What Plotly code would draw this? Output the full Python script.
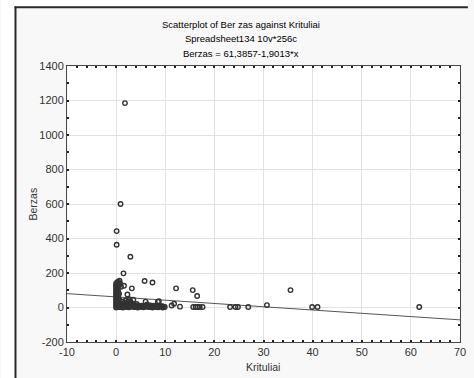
import plotly.graph_objects as go

# ---- data ----
outlier_x = [1.8, 0.9, 0.1, 0.1, 2.9, 1.5, 3.2, 0.7, 1.6, 2.3, 2.7, 3.5, 5.8, 7.4,
             12.2, 15.6, 16.5, 6.0, 8.5, 8.7, 35.5, 30.7, 11.3, 11.8, 13.0,
             15.7, 16.2, 16.6, 17.0, 17.6, 23.2, 24.3, 24.8, 26.9, 39.9, 41.0, 61.7,
             0.4, 0.8, 1.0, 2.0, 4.2, 6.3, 9.6, 9.9]
outlier_y = [1185, 600, 443, 364, 294, 198, 111, 155, 126, 75, 48, 45, 154, 145,
             111, 101, 67, 34, 34, 37, 101, 14, 12, 22, 5,
             3, 3, 3, 3, 3, 3, 3, 3, 3, 3, 3, 3,
             150, 140, 120, 40, 20, 18, 5, 3]

col_x = [0, 0, 0, 0, 0, 0, 0, 0, 0, 0, 0, 0, 0, 0, 0,
         0.2, 0.2, 0.2, 0.2, 0.2, 0.2, 0.2, 0.2,
         0.4, 0.4, 0.4, 0.4, 0.4, 0.4,
         0.6, 0.6, 0.6, 0.6]
col_y = [0, 10, 20, 30, 40, 50, 60, 70, 80, 90, 100, 110, 120, 130, 140,
         5, 25, 45, 65, 85, 105, 125, 145,
         15, 35, 55, 75, 95, 115,
         20, 50, 80, 135]

band_x = [0.8, 1.1, 1.4, 1.7, 2.0, 2.3, 2.6, 2.9, 3.2, 3.5, 3.8, 4.1, 4.4, 4.7, 5.0,
          5.3, 5.6, 5.9, 6.2, 6.5, 6.8, 7.1, 7.4, 7.7, 8.0, 8.3, 8.6, 8.9, 9.2, 9.5,
          0.9, 1.3, 1.8, 2.2, 2.7, 3.1, 3.6, 4.0, 4.6, 5.2, 5.8, 6.4, 7.0, 7.6, 8.2,
          8.8, 9.4, 1.0, 1.5, 2.0, 2.5, 3.0, 3.4, 1.2, 1.9, 2.4, 2.8]
band_y = [2, 5, 0, 8, 3, 6, 1, 9, 4, 7, 2, 5, 0, 8, 3,
          6, 1, 9, 4, 7, 2, 5, 0, 8, 3, 6, 1, 9, 4, 0,
          12, 15, 10, 14, 11, 16, 13, 12, 10, 11, 9, 10, 12, 11, 10,
          9, 8, 25, 20, 28, 22, 30, 18, 35, 40, 32, 38]

fit_intercept = 61.3857
fit_slope = -1.9013
fit_x = [-10, 70]
fit_y = [fit_intercept + fit_slope * v for v in fit_x]

x_tickvals = [-10, 0, 10, 20, 30, 40, 50, 60, 70]
x_ticktext = ["-10", "0", "10", "20", "30", "40", "50", "60", "70"]
y_tickvals = [-200, 0, 200, 400, 600, 800, 1000, 1200, 1400]
y_ticktext = ["-200", "0", "200", "400", "600", "800", "1000", "1200", "1400"]

title_lines = ["Scatterplot of Ber zas against Krituliai",
               "Spreadsheet134 10v*256c",
               "Berzas = 61,3857-1,9013*x"]
x_label = "Krituliai"
y_label = "Berzas"

# ---- layout geometry (pixels) ----
W, H = 474, 378
L, R, T, B = 67, 8, 66, 36
pw, ph = W - L - R, H - T - B


def px(x):
    return (x - L) / pw


def py(y):
    return (H - B - y) / ph


FONT = "Liberation Sans, Arial, sans-serif"
mk = dict(symbol="circle-open", size=4.5, color="#333333", line=dict(width=1.4, color="#333333"))

fig = go.Figure()
fig.add_trace(go.Scatter(x=fit_x, y=fit_y, mode="lines",
                         line=dict(color="#555555", width=1), hoverinfo="skip"))
for xs, ys in [(band_x, band_y), (col_x, col_y), (outlier_x, outlier_y)]:
    fig.add_trace(go.Scatter(x=xs, y=ys, mode="markers", marker=mk))

axis_common = dict(
    showline=True, linecolor="#444444", linewidth=1, mirror="ticks",
    ticks="inside", ticklen=2, tickcolor="#222222", tickwidth=2,
    showgrid=True, gridcolor="#e3e3e3", gridwidth=1, zeroline=False,
    tickfont=dict(family=FONT, size=11, color="#333333"),
)

fig.update_xaxes(range=[-10, 70], tickvals=x_tickvals, ticktext=x_ticktext,
                 minor=dict(dtick=2, tick0=0, ticks="inside", ticklen=2, tickwidth=2,
                            tickcolor="#222222", showgrid=False),
                 **axis_common)
fig.update_yaxes(range=[-200, 1400], tickvals=y_tickvals, ticktext=y_ticktext,
                 minor=dict(dtick=100, tick0=0, ticks="inside", ticklen=2, tickwidth=2,
                            tickcolor="#222222", showgrid=False),
                 **axis_common)

annotations = []
for i, t in enumerate(title_lines):
    annotations.append(dict(text=t, x=px(244), y=py(24 + 14.5 * i), xref="paper", yref="paper",
                            showarrow=False, xanchor="center", yanchor="middle",
                            font=dict(family=FONT, size=9.5, color="black")))
annotations.append(dict(text=x_label, x=px(266), y=py(367), xref="paper", yref="paper",
                        showarrow=False, xanchor="center", yanchor="middle",
                        font=dict(family=FONT, size=10.5, color="#333333")))
annotations.append(dict(text=y_label, x=px(32), y=py(204), xref="paper", yref="paper",
                        showarrow=False, xanchor="center", yanchor="middle", textangle=-90,
                        font=dict(family=FONT, size=10.5, color="#333333")))

shapes = [
    # white area outside the frame
    dict(type="rect", xref="paper", yref="paper", x0=px(0), x1=px(14), y0=py(378), y1=py(0),
         fillcolor="white", line=dict(width=0), layer="below"),
    dict(type="rect", xref="paper", yref="paper", x0=px(0), x1=px(474), y0=py(7), y1=py(0),
         fillcolor="white", line=dict(width=0), layer="below"),
    # frame lines
    dict(type="line", xref="paper", yref="paper", x0=px(14.7), x1=px(14.7), y0=py(378), y1=py(6.5),
         line=dict(color="#2a2a2a", width=2)),
    dict(type="line", xref="paper", yref="paper", x0=px(13.7), x1=px(474), y0=py(7.3), y1=py(7.3),
         line=dict(color="#2a2a2a", width=2)),
]

fig.update_layout(
    width=W, height=H, margin=dict(l=L, r=R, t=T, b=B),
    paper_bgcolor="#f8f8f8", plot_bgcolor="white",
    showlegend=False, annotations=annotations, shapes=shapes,
)

fig.write_html("out.html")
